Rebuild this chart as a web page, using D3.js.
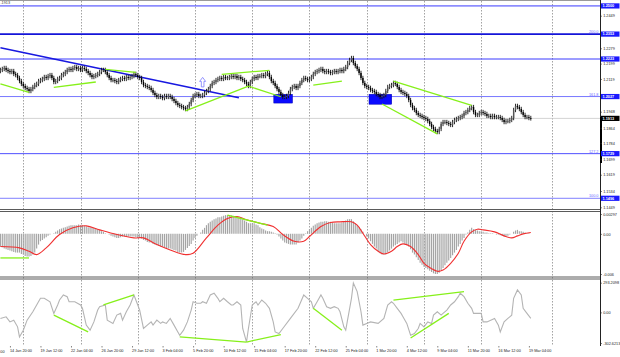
<!DOCTYPE html>
<html><head><meta charset="utf-8">
<script src="https://cdn.jsdelivr.net/npm/d3@7/dist/d3.min.js"></script>
<style>
html,body{margin:0;padding:0;background:#fff;}
svg{display:block;font-family:"Liberation Sans",Arial,sans-serif;}
</style></head><body>
<svg id="c" width="620" height="357"></svg>
<script>
// ---------------- DATA ----------------
const firstOpen = 1.2160;
const closes = [
1.2166,1.2171,1.2176,1.2166,1.2160,1.2155,1.2160,1.2145,1.2139,1.2124,
1.2108,1.2093,1.2082,1.2072,1.2066,1.2056,1.2066,1.2077,1.2087,1.2093,
1.2108,1.2113,1.2119,1.2129,1.2124,1.2134,1.2139,1.2124,1.2103,1.2108,
1.2119,1.2124,1.2139,1.2145,1.2155,1.2166,1.2171,1.2166,1.2176,1.2181,
1.2171,1.2176,1.2166,1.2176,1.2171,1.2160,1.2150,1.2139,1.2129,1.2134,
1.2139,1.2145,1.2155,1.2166,1.2166,1.2155,1.2139,1.2124,1.2113,1.2113,
1.2108,1.2103,1.2113,1.2119,1.2124,1.2119,1.2129,1.2124,1.2129,1.2134,
1.2145,1.2139,1.2129,1.2124,1.2103,1.2087,1.2082,1.2077,1.2072,1.2061,
1.2046,1.2035,1.2025,1.2030,1.2025,1.2019,1.2030,1.2025,1.2030,1.2025,
1.2014,1.2004,1.1993,1.1983,1.1978,1.1972,1.1967,1.1962,1.1972,1.1988,
1.2009,1.2030,1.2035,1.2040,1.2030,1.2030,1.2035,1.2046,1.2056,1.2066,
1.2082,1.2098,1.2103,1.2113,1.2119,1.2124,1.2119,1.2129,1.2124,1.2124,
1.2129,1.2134,1.2129,1.2134,1.2124,1.2129,1.2119,1.2113,1.2103,1.2093,
1.2082,1.2103,1.2119,1.2129,1.2124,1.2134,1.2134,1.2139,1.2134,1.2145,
1.2150,1.2129,1.2108,1.2098,1.2082,1.2066,1.2051,1.2035,1.2025,1.2025,
1.2030,1.2046,1.2066,1.2077,1.2082,1.2072,1.2082,1.2098,1.2113,1.2124,
1.2119,1.2113,1.2119,1.2129,1.2145,1.2155,1.2160,1.2166,1.2171,1.2160,
1.2155,1.2160,1.2155,1.2150,1.2155,1.2160,1.2155,1.2160,1.2166,1.2160,
1.2171,1.2181,1.2202,1.2218,1.2228,1.2202,1.2186,1.2171,1.2150,1.2124,
1.2098,1.2082,1.2077,1.2072,1.2061,1.2056,1.2051,1.2040,1.2035,1.2025,
1.2030,1.2035,1.2056,1.2077,1.2082,1.2087,1.2098,1.2093,1.2077,1.2061,
1.2051,1.2046,1.2040,1.2030,1.2009,1.1983,1.1967,1.1957,1.1941,1.1931,
1.1926,1.1920,1.1915,1.1910,1.1899,1.1884,1.1868,1.1858,1.1847,1.1842,
1.1858,1.1884,1.1894,1.1894,1.1889,1.1884,1.1879,1.1894,1.1905,1.1910,
1.1915,1.1920,1.1926,1.1941,1.1946,1.1957,1.1967,1.1972,1.1946,1.1931,
1.1931,1.1941,1.1946,1.1941,1.1936,1.1926,1.1926,1.1920,1.1926,1.1920,
1.1920,1.1920,1.1915,1.1905,1.1894,1.1899,1.1899,1.1905,1.1915,1.1957,
1.1978,1.1972,1.1962,1.1946,1.1931,1.1920,1.1920,1.1915,1.1913
];
const macdHist = [
-0.0019,-0.0020,-0.0022,-0.0023,-0.0024,-0.0025,-0.0026,-0.0027,-0.0028,-0.0028,
-0.0028,-0.0030,-0.0031,-0.0033,-0.0034,-0.0034,-0.0033,-0.0031,-0.0028,-0.0022,
-0.0016,-0.0011,-0.0009,-0.0007,-0.0005,-0.0003,-0.0001,0,0.0001,0.0003,
0.0005,0.0007,0.0008,0.0009,0.0010,0.0011,0.0012,0.0013,0.0013,0.0013,
0.0013,0.0014,0.0013,0.0013,0.0012,0.0011,0.0010,0.0010,0.0010,0.0009,
0.0008,0.0007,0.0006,0.0004,0.0003,0.0001,0,-0.0001,-0.0003,-0.0004,
-0.0005,-0.0006,-0.0006,-0.0005,-0.0004,-0.0004,-0.0004,-0.0004,-0.0004,-0.0004,
-0.0004,-0.0005,-0.0006,-0.0006,-0.0007,-0.0009,-0.0010,-0.0012,-0.0013,-0.0013,
-0.0015,-0.0016,-0.0017,-0.0018,-0.0019,-0.0019,-0.0020,-0.0021,-0.0022,-0.0022,
-0.0023,-0.0024,-0.0025,-0.0027,-0.0028,-0.0028,-0.0027,-0.0024,-0.0021,-0.0018,
-0.0015,-0.0010,-0.0006,-0.0003,0,0.0002,0.0006,0.0009,0.0013,0.0016,
0.0018,0.0020,0.0022,0.0023,0.0025,0.0025,0.0026,0.0027,0.0028,0.0028,
0.0028,0.0028,0.0027,0.0026,0.0025,0.0025,0.0024,0.0022,0.0020,0.0018,
0.0016,0.0016,0.0016,0.0016,0.0014,0.0013,0.0010,0.0008,0.0007,0.0005,
0.0004,0.0004,0.0003,0.0002,0.0001,-0.0001,-0.0004,-0.0007,-0.0010,-0.0013,
-0.0014,-0.0015,-0.0016,-0.0016,-0.0016,-0.0016,-0.0013,-0.0010,-0.0007,-0.0003,
0.0001,0.0004,0.0007,0.0009,0.0012,0.0014,0.0016,0.0017,0.0018,0.0018,
0.0019,0.0019,0.0018,0.0018,0.0017,0.0016,0.0016,0.0016,0.0016,0.0017,
0.0019,0.0020,0.0022,0.0022,0.0022,0.0019,0.0016,0.0013,0.0010,0.0007,
0.0003,0,-0.0004,-0.0007,-0.0011,-0.0015,-0.0019,-0.0022,-0.0026,-0.0029,
-0.0031,-0.0031,-0.0031,-0.0028,-0.0025,-0.0022,-0.0019,-0.0017,-0.0015,-0.0013,
-0.0011,-0.0013,-0.0015,-0.0017,-0.0019,-0.0023,-0.0028,-0.0031,-0.0035,-0.0039,
-0.0043,-0.0046,-0.0049,-0.0051,-0.0053,-0.0055,-0.0057,-0.0059,-0.0060,-0.0060,
-0.0058,-0.0054,-0.0051,-0.0047,-0.0043,-0.0040,-0.0036,-0.0032,-0.0028,-0.0024,
-0.0019,-0.0015,-0.0010,-0.0006,-0.0001,0.0002,0.0006,0.0009,0.0007,0.0006,
0.0005,0.0004,0.0004,0.0003,0.0002,0.0002,0.0001,0.0001,0.0001,0,
-0.0001,-0.0001,-0.0002,-0.0003,-0.0004,-0.0004,-0.0003,-0.0001,0,0.0003,
0.0005,0.0006,0.0004,0.0004,0.0003,0.0002,0.0001,0.0001,0
];
const signalPts = [[0,-0.0019],[10,-0.0021],[15,-0.0026],[19,-0.0031],[24,-0.0021],[31,-0.0001],[38,0.0009],[45,0.0012],[52,0.0006],[61,-0.0001],[70,-0.0006],[75,-0.0006],[82,-0.0016],[89,-0.0024],[97,-0.0031],[101,-0.0029],[108,-0.0006],[114,0.0013],[119,0.0023],[124,0.0026],[129,0.0021],[136,0.0016],[143,0.0011],[148,-0.0001],[154,-0.0011],[159,-0.0011],[162,-0.0004],[168,0.0011],[173,0.0017],[178,0.0018],[184,0.0018],[187,0.0013],[190,0.0001],[194,-0.0016],[198,-0.0026],[201,-0.0030],[205,-0.0026],[208,-0.0019],[211,-0.0015],[215,-0.0019],[219,-0.0031],[222,-0.0044],[226,-0.0052],[229,-0.0056],[232,-0.0054],[236,-0.0044],[240,-0.0029],[243,-0.0011],[247,0.0003],[250,0.0007],[253,0.0006],[259,0.0003],[264,-0.0003],[268,-0.0006],[271,-0.0003],[274,0.0000],[278,0.0002]];
const cciPts = [[0,-60],[3,-44],[5,-94],[7,-77],[9,-143],[10,-243],[12,-176],[14,-77],[17,6],[21,139],[23,139],[26,105],[28,-10],[30,73],[31,122],[33,172],[35,155],[36,105],[39,105],[42,73],[43,40],[45,-126],[47,-176],[49,-94],[51,23],[52,56],[55,73],[56,-77],[59,-109],[61,-27],[63,-10],[64,-77],[66,6],[68,73],[70,172],[72,73],[73,23],[75,-159],[77,-126],[79,-94],[80,-126],[82,-77],[84,-109],[85,-94],[87,-109],[89,-60],[91,-126],[93,-193],[94,-226],[96,-176],[98,-94],[100,23],[101,105],[103,90],[105,90],[106,105],[108,90],[110,172],[112,189],[114,139],[115,105],[117,139],[119,105],[121,73],[122,73],[124,105],[126,73],[127,-159],[129,-293],[130,-159],[132,73],[134,105],[135,73],[137,122],[139,90],[141,40],[143,-94],[144,-193],[146,-209],[148,-159],[152,-60],[156,40],[159,172],[161,139],[163,105],[164,40],[166,105],[168,172],[169,139],[171,56],[173,40],[175,56],[177,40],[178,6],[180,-143],[181,-176],[184,139],[185,289],[187,205],[189,6],[190,-126],[192,-109],[194,-94],[198,-109],[201,-60],[203,73],[205,105],[206,90],[208,40],[210,-10],[211,-44],[213,-109],[215,-226],[217,-209],[219,-159],[220,-109],[222,-143],[224,-94],[226,-109],[227,-27],[229,6],[231,-27],[232,-10],[234,23],[236,73],[238,105],[240,155],[241,189],[243,155],[245,90],[247,40],[248,-10],[252,-10],[253,-94],[255,-94],[257,-77],[259,-60],[261,-126],[262,-193],[264,-94],[266,-60],[268,-27],[269,139],[271,222],[273,172],[274,40],[276,-10],[278,-60]];

const priceTicks = [1.2449,1.2279,1.2199,1.2119,1.1948,1.1864,1.1784,1.1699,1.1619,1.1534,1.1449];
const fiboPrices = [1.2500,1.2353,1.2223,1.2027,1.1729,1.1496];
const fiboPct    = ["","200.0","","161.8","127.2","100.0"];
const currentPrice = 1.1913;
const macdTicks = [0.00297,0,-0.006];
const macdTickText = ["0.00297","0.00","-0.006"];
const cciTicks = [293.2098,0,-302.6213];
const cciTickText = ["293.2098","0.00","-302.6213"];
const dateIdx = [5,21,37,53,69,85,101,117,133,149,165,181,197,213,229,245,261,277];
const dateText = ["14 Jan 20:00","19 Jan 12:00","22 Jan 04:00","26 Jan 20:00","29 Jan 12:00","3 Feb 04:00","5 Feb 20:00","10 Feb 12:00","15 Feb 04:00","17 Feb 20:00","22 Feb 12:00","25 Feb 04:00","1 Mar 20:00","4 Mar 12:00","9 Mar 04:00","11 Mar 20:00","16 Mar 12:00","19 Mar 04:00"];
const leftCutLabel = "00";      // tail of the "12 Jan 04:00" label at the left edge
const captionText = ".1913";    // visible part of the top-left caption
const weekGridIdx = [12,42,72,102,132,162,192,222,252,289];
// objects
const trendLine = [[0,1.2282],[125,1.2021]];
const priceGreen = [
 [[0,1.2093],[15,1.2049]], [[28,1.2075],[50,1.2103]], [[55,1.2169],[71,1.2153]],
 [[97,1.1952],[130,1.2081]], [[130,1.2081],[147,1.2026]], [[116,1.2143],[141,1.2164]],
 [[164,1.2087],[179,1.2107]], [[206,1.2108],[247,1.1981]], [[200,1.1988],[229,1.1832]]
];
const boxes = [[143.3,153.1,1.2039,1.1993],[193.2,205.1,1.2039,1.1987]];
const arrowAt = [106,1.2127];
const macdGreen = [[[0,-0.0036],[15,-0.0036]], [[119,0.0028],[140,0.0013]]];
const cciGreen = [
 [[28,-27],[46,-193]], [[54,73],[70,172]], [[94,-243],[129,-293]], [[129,-293],[147,-219]],
 [[164,40],[179,-176]], [[206,122],[243,205]], [[215,-253],[235,-10]]
];

// ---------------- SCALES ----------------
const svg = d3.select("#c");
const x  = d3.scaleLinear().domain([0,278]).range([0.4,530.8]);
const yP = d3.scaleLinear().domain([1.1449,1.2449]).range([207.3,15.7]);
const yM = d3.scaleLinear().domain([-0.006,0.00297]).range([274,214]);
const yC = d3.scaleLinear().domain([-302.6213,293.2098]).range([343,282.7]);
const AX = 600.5;
const FS = 3.8;

const defs = svg.append("defs");
[["cm",0,0,600,209.5],["cmd",0,212,600,65],["cc",0,280,600,65]].forEach(([id,a,b,w,h])=>{
  defs.append("clipPath").attr("id",id).append("rect").attr("x",a).attr("y",b).attr("width",w).attr("height",h);
});

svg.append("rect").attr("width",620).attr("height",357).attr("fill","#fff");
svg.append("line").attr("x1",0).attr("x2",AX).attr("y1",0.5).attr("y2",0.5).attr("stroke","#9a9a9a");

// weekly dotted grid
svg.append("g").selectAll("line").data(weekGridIdx).join("line")
  .attr("x1",d=>Math.round(x(d))+0.5).attr("x2",d=>Math.round(x(d))+0.5)
  .attr("y1",1).attr("y2",346).attr("stroke","#8c8c8c").attr("stroke-dasharray","1.5,1.5").attr("stroke-width",0.8);

// ---------------- MAIN PANEL ----------------
const gm = svg.append("g").attr("clip-path","url(#cm)");
gm.append("line").attr("x1",0).attr("x2",AX).attr("y1",yP(currentPrice)).attr("y2",yP(currentPrice)).attr("stroke","#c8c8c8").attr("stroke-width",0.8);
const fiboStyle = [["#3a3aff",1],["#1414d8",1.8],["#3a3aff",1],["#7878ff",1],["#5050ff",1],["#8080ff",1]];
gm.selectAll("line.fib").data(fiboPrices).join("line").attr("class","fib")
  .attr("x1",0).attr("x2",AX).attr("y1",d=>yP(d)).attr("y2",d=>yP(d))
  .attr("stroke",(d,i)=>fiboStyle[i][0]).attr("stroke-width",(d,i)=>fiboStyle[i][1]);
svg.selectAll("text.fpct").data(fiboPrices).join("text").attr("class","fpct")
  .attr("x",598.5).attr("y",d=>yP(d)-0.8).attr("text-anchor","end")
  .attr("font-size",FS).attr("fill","#6a6aff").text((d,i)=>fiboPct[i]);
gm.selectAll("rect.box").data(boxes).join("rect").attr("class","box")
  .attr("x",d=>x(d[0])).attr("width",d=>x(d[1])-x(d[0]))
  .attr("y",d=>yP(d[2])).attr("height",d=>yP(d[3])-yP(d[2]))
  .attr("fill","#0a0aff").attr("stroke","#0000b0").attr("stroke-width",0.5);
const lineP = d3.line().x(d=>x(d[0])).y(d=>yP(d[1]));
gm.append("path").attr("d",lineP(trendLine)).attr("stroke","#1818e0").attr("stroke-width",1.6).attr("fill","none");
const bars = closes.map((c,i)=>({i,o:i===0?firstOpen:closes[i-1],c}));
const gc = gm.append("g");
gc.selectAll("line").data(bars).join("line")
  .attr("x1",d=>x(d.i)).attr("x2",d=>x(d.i))
  .attr("y1",d=>yP(Math.max(d.o,d.c))-2.2).attr("y2",d=>yP(Math.min(d.o,d.c))+2.2)
  .attr("stroke","#111").attr("stroke-width",0.9);
gc.selectAll("rect").data(bars).join("rect")
  .attr("x",d=>x(d.i)-0.7).attr("width",1.4)
  .attr("y",d=>yP(Math.max(d.o,d.c))).attr("height",d=>Math.max(0.8,yP(Math.min(d.o,d.c))-yP(Math.max(d.o,d.c))))
  .attr("fill",d=>d.c>=d.o?"#555":"#000");
gm.selectAll("path.g").data(priceGreen).join("path").attr("class","g")
  .attr("d",lineP).attr("stroke","#86f01a").attr("stroke-width",1.3).attr("fill","none");
gm.append("path").attr("transform",`translate(${x(arrowAt[0])},${yP(arrowAt[1])})`)
  .attr("d","M0,0 L-3,4 L-1.3,4 L-1.3,9.5 L1.3,9.5 L1.3,4 L3,4 Z")
  .attr("fill","#fff").attr("stroke","#7a7aff").attr("stroke-width",0.8);

// ---------------- MACD PANEL ----------------
const gd = svg.append("g").attr("clip-path","url(#cmd)");
gd.selectAll("line").data(macdHist).join("line")
  .attr("x1",(d,i)=>x(i)).attr("x2",(d,i)=>x(i))
  .attr("y1",yM(0)).attr("y2",d=>yM(d)).attr("stroke","#a4a4a4").attr("stroke-width",1.15);
const lineM = d3.line().x(d=>x(d[0])).y(d=>yM(d[1]));
gd.append("path").attr("d",lineM.curve(d3.curveCatmullRom)(signalPts)).attr("stroke","#f03030").attr("stroke-width",1.1).attr("fill","none");
lineM.curve(d3.curveLinear);
gd.selectAll("path.g").data(macdGreen).join("path").attr("class","g")
  .attr("d",lineM).attr("stroke","#86f01a").attr("stroke-width",1.3).attr("fill","none");

// ---------------- CCI PANEL ----------------
const gi = svg.append("g").attr("clip-path","url(#cc)");
const lineC = d3.line().x(d=>x(d[0])).y(d=>yC(d[1]));
gi.append("path").attr("d",lineC(cciPts)).attr("stroke","#b4b4b4").attr("stroke-width",1.1).attr("fill","none");
gi.selectAll("path.g").data(cciGreen).join("path").attr("class","g")
  .attr("d",lineC).attr("stroke","#86f01a").attr("stroke-width",1.3).attr("fill","none");

// panel separators
[[209.5,211.5],[277,279]].forEach(([a,b])=>{
  svg.append("line").attr("x1",0).attr("x2",AX).attr("y1",a).attr("y2",a).attr("stroke","#5a5a5a").attr("stroke-width",1);
  svg.append("line").attr("x1",0).attr("x2",AX).attr("y1",b).attr("y2",b).attr("stroke","#5a5a5a").attr("stroke-width",1);
});

// ---------------- AXES ----------------
svg.append("line").attr("x1",AX).attr("x2",AX).attr("y1",0).attr("y2",346).attr("stroke","#222").attr("stroke-width",1);
svg.append("rect").attr("x",AX-0.5).attr("width",2).attr("y",117).attr("height",46).attr("fill","#000");

function styleAxis(g){
  g.select(".domain").remove();
  g.selectAll(".tick line").attr("stroke","#333").attr("stroke-width",0.6);
  g.selectAll(".tick text").attr("font-size",FS).attr("fill","#222").attr("font-family","Liberation Sans, Arial, sans-serif");
}
svg.append("g").attr("transform",`translate(${AX},0)`)
  .call(d3.axisRight(yP).tickValues(priceTicks).tickFormat(d3.format(".4f")).tickSize(1.5).tickPadding(1.2))
  .call(styleAxis);
svg.append("g").attr("transform",`translate(${AX},0)`)
  .call(d3.axisRight(yM).tickValues(macdTicks).tickFormat((d,i)=>macdTickText[i]).tickSize(1.5).tickPadding(1.2))
  .call(styleAxis);
svg.append("g").attr("transform",`translate(${AX},0)`)
  .call(d3.axisRight(yC).tickValues(cciTicks).tickFormat((d,i)=>cciTickText[i]).tickSize(1.5).tickPadding(1.2))
  .call(styleAxis);

const fb = svg.append("g");
fiboPrices.forEach(p=>{
  fb.append("rect").attr("x",AX+0.5).attr("y",yP(p)-2.6).attr("width",18.5).attr("height",5.2).attr("fill","#1a1aff");
  fb.append("text").attr("x",AX+2).attr("y",yP(p)+1.3).attr("font-size",FS).attr("fill","#fff").attr("font-weight","bold").text(d3.format(".4f")(p));
});
fb.append("rect").attr("x",AX+0.5).attr("y",yP(currentPrice)-2.6).attr("width",18.5).attr("height",5.2).attr("fill","#000");
fb.append("text").attr("x",AX+2).attr("y",yP(currentPrice)+1.3).attr("font-size",FS).attr("fill","#fff").attr("font-weight","bold").text(d3.format(".4f")(currentPrice));

// time axis
const gx = svg.append("g").attr("transform","translate(0,346)")
  .call(d3.axisBottom(x).tickValues(dateIdx).tickFormat((d,i)=>dateText[i]).tickSize(1.5).tickPadding(2));
gx.select(".domain").remove();
gx.selectAll(".tick line").attr("stroke","#333").attr("stroke-width",0.6);
gx.selectAll(".tick text").attr("text-anchor","start").attr("dx",-0.5).attr("font-size",FS).attr("fill","#222");
svg.append("text").attr("x",0.3).attr("y",353.2).attr("font-size",FS).attr("fill","#222").text(leftCutLabel);

// top-left caption
svg.append("text").attr("x",0.5).attr("y",4.4).attr("font-size",FS).attr("fill","#333").text(captionText);
</script>
</body></html>
